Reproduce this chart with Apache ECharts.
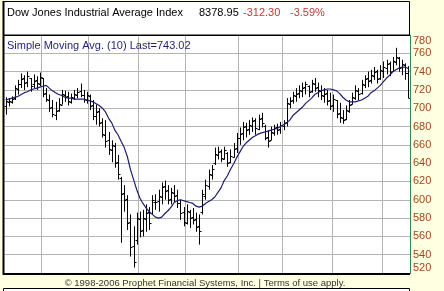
<!DOCTYPE html>
<html><head><meta charset="utf-8">
<script src="https://cdn.jsdelivr.net/npm/echarts@6/dist/echarts.min.js"></script>
<style>html,body{margin:0;padding:0;background:#ffffe1;}#c{width:444px;height:291px;}</style>
</head><body><div id="c"></div>
<script>
// OHLC values (one bar per trading day)
const opens = [702,707,707,711,721,727,733,729,733,726, 731,727,733,717,709,701,693,698,704,715,
  713,707,711,715,719,715,709,713,703,691, 697,685,671,665,654,659,641,624,607,601,
  576,549,556,579,567,579,587,586,598,599, 603,615,611,601,607,605,597,587,575,587,
  581,579,571,587,604,615,627,640,649,653, 645,651,641,647,657,667,673,681,677,681,
  687,677,689,681,669,665,673,679,677,681, 685,705,709,713,717,719,723,724,719,727,
  723,719,713,717,709,703,709,695,689,688, 697,705,711,719,717,725,733,731,735,741,
  733,741,744,749,741,751,755,745,747,739];
const highs = [712,711,713,725,731,738,736,740,733,737, 735,739,733,722,715,709,707,711,720,719,
  718,716,720,722,727,720,718,715,709,704, 700,689,687,674,665,662,649,625,616,605,
  584,571,586,587,589,595,592,605,606,611, 619,621,616,613,616,611,600,592,595,589,
  591,586,584,611,622,633,638,657,658,655, 658,652,655,662,673,679,685,684,687,690,
  689,693,695,682,676,680,682,683,685,687, 711,712,718,722,725,728,729,725,731,733,
  728,725,722,720,717,715,709,706,698,703, 709,717,725,722,731,736,740,742,745,742,
  747,751,753,751,756,766,756,753,749,746];
const lows = [693,702,705,709,715,722,720,723,718,722, 720,724,712,707,696,690,687,696,704,707,
  703,705,709,711,712,706,705,698,687,682, 680,668,657,649,641,635,622,553,587,567,
  538,526,551,559,560,565,567,584,589,587, 595,600,595,595,597,591,578,571,573,569,
  573,565,551,584,600,611,622,638,644,641, 644,636,640,646,651,660,665,668,671,674,
  671,676,679,665,657,665,670,671,672,676, 680,700,705,707,711,712,715,712,717,718,
  712,709,706,703,698,696,689,684,683,687, 695,704,709,709,715,722,723,727,731,727,
  731,733,737,735,740,747,740,736,731,711];
const closes = [708,708,710,722,726,732,728,735,724,730, 728,734,716,710,700,694,697,705,716,712,
  708,712,716,718,714,710,714,702,692,696, 684,672,664,655,660,640,628,606,600,575,
  548,532,580,566,580,586,575,600,598,604, 614,610,600,608,604,596,586,576,588,580,
  578,570,566,606,616,628,634,650,652,646, 654,640,648,656,668,672,680,676,682,686,
  678,688,684,668,664,674,678,676,682,684, 706,708,714,716,720,722,726,718,728,722,
  720,714,716,708,702,710,694,690,687,698, 704,712,720,716,726,732,730,736,740,732,
  742,745,748,740,752,756,744,748,738,711];
// Simple Moving Avg. (10) as drawn
const sma10 = [709,710,711,712,713,715,717,718,720,721, 722,723,724,725,722,719,717,715,714,712,
  711,711,710,710,710,710,709,708,707,705, 703,700,696,689,684,676,671,664,657,647,
  633,622,611,602,596,591,587,584,581,580, 581,585,588,592,597,599,600,599,598,597,
  596,593,592,593,596,598,600,603,608,613, 621,626,633,639,646,652,658,662,665,668,
  670,672,673,674,675,676,677,678,680,682, 684,687,692,695,698,701,705,708,711,715,
  717,719,720,721,721,720,719,716,712,709, 707,707,707,708,709,711,713,717,719,722,
  725,729,733,736,740,742,744,745,745,743.02];
const yTicks = [520,540,560,580,600,620,640,660,680,700,720,740,760,780];
const monthStarts = [12,27,43,58,75,89,105,121];
const categories = closes.map((_, i) => String(i + 1));

const ohlc = categories.map((c, i) => [i, opens[i], closes[i], lows[i], highs[i]]);
const msSet = new Set(monthStarts);

const chart = echarts.init(document.getElementById('c'), null, {renderer: 'canvas'});
const F = 'Liberation Sans, Arial, sans-serif';
chart.setOption({
  backgroundColor: '#ffffe1',
  animation: false,
  grid: {left: 4, top: 35, width: 406, height: 238, show: true, backgroundColor: '#ffffff', borderWidth: 0},
  xAxis: {
    type: 'category', data: categories, boundaryGap: true,
    axisLine: {show: false}, axisTick: {show: false}, axisLabel: {show: false},
    splitLine: {show: true, interval: (i) => msSet.has(i), lineStyle: {color: '#b4b4b4', width: 1}}
  },
  yAxis: {
    type: 'value', position: 'right', min: yTicks[0], max: yTicks[yTicks.length - 1], interval: 20,
    axisLine: {show: false}, axisTick: {show: false},
    axisLabel: {
      color: '#a8441a', fontFamily: F, fontSize: 11, margin: 3,
      showMinLabel: true, showMaxLabel: true, hideOverlap: false,
      verticalAlignMaxLabel: 'top', verticalAlignMinLabel: 'bottom'
    },
    splitLine: {show: true, lineStyle: {color: '#b4b4b4', width: 1}}
  },
  series: [
    {
      type: 'custom', name: 'DJI', data: ohlc, encode: {x: 0, y: [1, 2, 3, 4]}, z: 3,
      renderItem: function (params, api) {
        const i = api.value(0);
        const pO = api.coord([i, api.value(1)]);
        const pC = api.coord([i, api.value(2)]);
        const pL = api.coord([i, api.value(3)]);
        const pH = api.coord([i, api.value(4)]);
        const px = Math.round(pO[0]) + 0.5;
        const st = {stroke: '#000', lineWidth: 1};
        const yo = Math.round(pO[1]) + 0.5, yc = Math.round(pC[1]) + 0.5;
        return {type: 'group', children: [
          {type: 'line', shape: {x1: px, y1: pH[1], x2: px, y2: pL[1]}, style: st},
          {type: 'line', shape: {x1: px - 2, y1: yo, x2: px, y2: yo}, style: st},
          {type: 'line', shape: {x1: px, y1: yc, x2: px + 2, y2: yc}, style: st}
        ]};
      }
    },
    {
      type: 'line', name: 'SMA10', data: sma10, symbol: 'none', z: 4,
      lineStyle: {color: '#1e1e6e', width: 1.2}
    }
  ],
  graphic: [
    {type: 'rect', shape: {x: 3.5, y: 1.5, width: 406, height: 33.5}, style: {fill: '#fff', stroke: '#000', lineWidth: 1}, z: 10},
    {type: 'line', shape: {x1: 3.5, y1: 1, x2: 3.5, y2: 275}, style: {stroke: '#000', lineWidth: 2}, z: 20},
    {type: 'line', shape: {x1: 3, y1: 274, x2: 410, y2: 274}, style: {stroke: '#000', lineWidth: 2}, z: 20},
    {type: 'line', shape: {x1: 3, y1: 35.5, x2: 410, y2: 35.5}, style: {stroke: '#000', lineWidth: 1}, z: 20},
    {type: 'line', shape: {x1: 410.5, y1: 35, x2: 410.5, y2: 274}, style: {stroke: '#2e8b57', lineWidth: 1}, z: 20},
    {type: 'rect', shape: {x: 3.5, y: 288.5, width: 406, height: 10}, style: {fill: '#fff', stroke: '#000', lineWidth: 1}, z: 10},
    {type: 'text', x: 7, y: 13, style: {text: 'Dow Jones Industrial Average Index', font: '11px ' + F, fill: '#000', textVerticalAlign: 'middle'}, z: 21},
    {type: 'text', x: 199, y: 13, style: {text: '8378.95', font: '11px ' + F, fill: '#000', textVerticalAlign: 'middle'}, z: 21},
    {type: 'text', x: 243, y: 13, style: {text: '-312.30', font: '11px ' + F, fill: '#c4363a', textVerticalAlign: 'middle'}, z: 21},
    {type: 'text', x: 290, y: 13, style: {text: '-3.59%', font: '11px ' + F, fill: '#c4363a', textVerticalAlign: 'middle'}, z: 21},
    {type: 'text', x: 7, y: 46, style: {text: 'Simple Moving Avg. (10) Last=743.02', font: '11px ' + F, fill: '#1e1e7a', textVerticalAlign: 'middle'}, z: 21},
    {type: 'text', x: 205, y: 283, style: {text: '\u00a9 1998-2006 Prophet Financial Systems, Inc. | Terms of use apply.', font: '9.5px ' + F, fill: '#333', textAlign: 'center', textVerticalAlign: 'middle'}, z: 21}
  ]
});
</script></body></html>
